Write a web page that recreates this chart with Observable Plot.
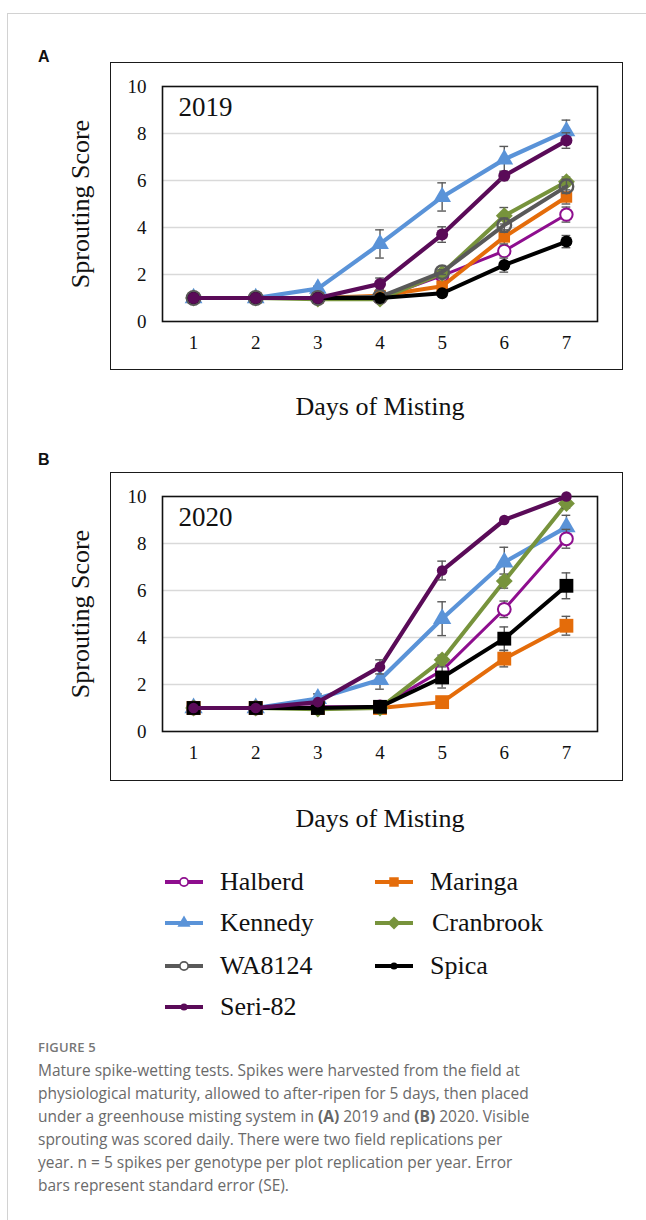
<!DOCTYPE html>
<html><head><meta charset="utf-8">
<script src="https://cdn.jsdelivr.net/npm/d3@7"></script>
<script src="https://cdn.jsdelivr.net/npm/@observablehq/plot@0.6"></script>
<style>
body{margin:0;background:#fff;}
#page{position:relative;width:646px;height:1220px;overflow:hidden;background:#fff;}
.card{position:absolute;left:7px;top:13px;width:720px;height:1400px;border:1px solid #d2d2d2;}
.plab{position:absolute;font-family:"Liberation Sans",Arial,sans-serif;font-weight:bold;font-size:16px;color:#111;line-height:1;}
.box{position:absolute;border:1.5px solid #1a1a1a;box-sizing:border-box;}
.plot{position:absolute;left:0;}
.leg{position:absolute;display:flex;align-items:center;font-family:"Liberation Serif","Times New Roman",serif;font-size:26px;color:#111;line-height:1;white-space:nowrap;}
.leg svg{margin-right:17px;overflow:visible;}
.figno{position:absolute;left:38px;top:1038px;font-family:"Open Sans",sans-serif;font-size:13px;color:#777;font-weight:600;letter-spacing:0.2px;}
.cap{position:absolute;left:38px;top:1059px;font-family:"Open Sans",sans-serif;font-size:15.5px;line-height:22.9px;color:#6a6a6a;white-space:nowrap;}
.cap b{font-weight:700;color:#666;}
</style>
</head><body>
<div id="page">
  <div class="card"></div>
  <div class="plab" style="left:38px;top:49px;">A</div>
  <div class="plab" style="left:38px;top:452px;">B</div>
  <div class="box" style="left:110px;top:62px;width:513px;height:308px;"></div>
  <div class="box" style="left:110px;top:472px;width:513px;height:309px;"></div>
  <div id="plotA" class="plot" style="top:40px;"></div>
  <div id="plotB" class="plot" style="top:450px;"></div>
  <div id="legend"></div>
  <div class="figno">FIGURE 5</div>
  <div class="cap">Mature spike-wetting tests. Spikes were harvested from the field at<br>physiological maturity, allowed to after-ripen for 5 days, then placed<br>under a greenhouse misting system in <b>(A)</b> 2019 and <b>(B)</b> 2020. Visible<br>sprouting was scored daily. There were two field replications per<br>year. n = 5 spikes per genotype per plot replication per year. Error<br>bars represent standard error (SE).</div>
</div>
<script>
// ---------- data ----------
const days = [1, 2, 3, 4, 5, 6, 7];
const dayTicks = [1, 2, 3, 4, 5, 6, 7];
const scoreTicks = [0, 2, 4, 6, 8, 10];
const genotypes = ["Halberd", "Kennedy", "WA8124", "Seri-82", "Maringa", "Cranbrook", "Spica"];

// 2019 mean scores
const halberd2019   = [1, 1, 1, 1, 1.95, 3.0, 4.55];
const kennedy2019   = [1, 1, 1.4, 3.3, 5.3, 6.9, 8.1];
const wa81242019    = [1, 1, 1, 1.05, 2.1, 4.1, 5.75];
const seri822019    = [1, 1, 1, 1.6, 3.7, 6.2, 7.7];
const maringa2019   = [1, 1, 1, 1.1, 1.5, 3.6, 5.3];
const cranbrook2019 = [1, 1, 0.95, 0.95, 2.05, 4.5, 5.95];
const spica2019     = [1, 1, 1, 1, 1.2, 2.4, 3.4];
// 2019 standard errors
const halberdSe2019   = [0, 0, 0, 0, 0.1, 0.2, 0.32];
const kennedySe2019   = [0, 0, 0.1, 0.6, 0.6, 0.55, 0.47];
const wa8124Se2019    = [0, 0, 0, 0, 0.1, 0.3, 0.3];
const seri82Se2019    = [0, 0, 0, 0.25, 0.33, 0.2, 0.33];
const maringaSe2019   = [0, 0, 0, 0, 0.1, 0.3, 0.3];
const cranbrookSe2019 = [0, 0, 0, 0, 0.1, 0.35, 0.2];
const spicaSe2019     = [0, 0, 0, 0, 0.05, 0.3, 0.26];

// 2020 mean scores (WA8124 not shown)
const halberd2020   = [1, 1, 1.05, 1.05, 2.6, 5.2, 8.2];
const kennedy2020   = [1, 1, 1.4, 2.2, 4.8, 7.2, 8.7];
const seri822020    = [1, 1, 1.25, 2.75, 6.85, 9.0, 10.0];
const maringa2020   = [1, 1, 1, 1, 1.25, 3.1, 4.5];
const cranbrook2020 = [1, 1, 0.95, 1.0, 3.05, 6.4, 9.7];
const spica2020     = [1, 1, 1, 1.05, 2.3, 3.95, 6.2];
// 2020 standard errors
const halberdSe2020   = [0, 0, 0, 0, 0.2, 0.35, 0.4];
const kennedySe2020   = [0, 0, 0.2, 0.4, 0.72, 0.64, 0.5];
const seri82Se2020    = [0, 0, 0, 0.3, 0.4, 0, 0];
const maringaSe2020   = [0, 0, 0, 0, 0.1, 0.35, 0.4];
const cranbrookSe2020 = [0, 0, 0, 0, 0.2, 0.3, 0.2];
const spicaSe2020     = [0, 0, 0, 0, 0.45, 0.5, 0.55];

// ---------- styles ----------
const colorOf = {
  "Halberd": "#8e0e8e", "Kennedy": "#5a93d8", "WA8124": "#595959", "Seri-82": "#5a0b58",
  "Maringa": "#e46c0a", "Cranbrook": "#77933c", "Spica": "#000000"
};
const widthOf = {"Halberd": 3, "Kennedy": 4.2, "WA8124": 4, "Seri-82": 4.2, "Maringa": 4, "Cranbrook": 4, "Spica": 4};
const drawOrder = ["Kennedy", "Halberd", "Maringa", "Cranbrook", "WA8124", "Spica", "Seri-82"];

const styleA = {
  "Halberd":   {symbol: "circle", r: 6.2, fill: "white", sw: 2},
  "Kennedy":   {symbol: "triangle", r: 6.6, fill: null, sw: 0},
  "WA8124":    {symbol: "circle", r: 6.8, fill: "none", sw: 2.4},
  "Seri-82":   {symbol: "circle", r: 6, fill: null, sw: 0},
  "Maringa":   {symbol: "square", r: 6.5, fill: null, sw: 0},
  "Cranbrook": {symbol: "diamond2", r: 7.6, fill: null, sw: 0},
  "Spica":     {symbol: "circle", r: 6, fill: null, sw: 0}
};
const styleB = {
  "Halberd":   {symbol: "circle", r: 6.4, fill: "white", sw: 2},
  "Kennedy":   {symbol: "triangle", r: 6.8, fill: null, sw: 0},
  "Seri-82":   {symbol: "circle", r: 5.3, fill: null, sw: 0},
  "Maringa":   {symbol: "square", r: 7.8, fill: null, sw: 0},
  "Cranbrook": {symbol: "diamond2", r: 7.6, fill: null, sw: 0},
  "Spica":     {symbol: "square", r: 7.8, fill: null, sw: 0}
};

const series2019 = {
  "Halberd": [halberd2019, halberdSe2019], "Kennedy": [kennedy2019, kennedySe2019],
  "WA8124": [wa81242019, wa8124Se2019], "Seri-82": [seri822019, seri82Se2019],
  "Maringa": [maringa2019, maringaSe2019], "Cranbrook": [cranbrook2019, cranbrookSe2019],
  "Spica": [spica2019, spicaSe2019]
};
const series2020 = {
  "Halberd": [halberd2020, halberdSe2020], "Kennedy": [kennedy2020, kennedySe2020],
  "Seri-82": [seri822020, seri82Se2020], "Maringa": [maringa2020, maringaSe2020],
  "Cranbrook": [cranbrook2020, cranbrookSe2020], "Spica": [spica2020, spicaSe2020]
};

const serif = '"Liberation Serif","Times New Roman",serif';
const capHalf = 0.07;

function panel(series, styles, yearLabel, labelDy) {
  const marks = [
    Plot.gridY([2, 4, 6, 8], {stroke: "#d9d9d9", strokeOpacity: 1, strokeWidth: 1.6}),
    Plot.frame({stroke: "#111", strokeWidth: 1.6}),
    Plot.axisX(dayTicks, {tickSize: 0, tickPadding: 14, fontSize: 19, fontFamily: serif, fill: "#111", label: null}),
    Plot.axisY(scoreTicks, {tickSize: 0, tickPadding: 16, fontSize: 19, fontFamily: serif, fill: "#111", label: null}),
    Plot.text([yearLabel], {text: d => d, frameAnchor: "top-left", textAnchor: "start", lineAnchor: "middle", dx: 16, dy: 21, fontSize: 27, fontFamily: serif, fill: "#111"}),
    Plot.text(["Days of Misting"], {text: d => d, frameAnchor: "bottom", textAnchor: "middle", dy: labelDy, fontSize: 26, fontFamily: serif, fill: "#111"}),
    Plot.text(["Sprouting Score"], {text: d => d, frameAnchor: "left", textAnchor: "middle", rotate: -90, dx: -82, fontSize: 26, fontFamily: serif, fill: "#111"})
  ];
  for (const name of drawOrder) {
    if (!series[name]) continue;
    const [vals, ses] = series[name];
    const rows = days.map((d, i) => ({day: d, v: vals[i], se: ses[i]}));
    const errRows = rows.filter(r => r.se > 0);
    const st = styles[name];
    const c = colorOf[name];
    marks.push(Plot.line(rows, {x: "day", y: "v", stroke: c, strokeWidth: widthOf[name], strokeLinejoin: "round"}));
    marks.push(Plot.ruleX(errRows, {x: "day", y1: r => r.v - r.se, y2: r => r.v + r.se, stroke: "#595959", strokeWidth: 1.4}));
    marks.push(Plot.ruleY(errRows, {y: r => r.v + r.se, x1: r => r.day - capHalf, x2: r => r.day + capHalf, stroke: "#595959", strokeWidth: 1.4}));
    marks.push(Plot.ruleY(errRows, {y: r => r.v - r.se, x1: r => r.day - capHalf, x2: r => r.day + capHalf, stroke: "#595959", strokeWidth: 1.4}));
    marks.push(Plot.dot(rows, {
      x: "day", y: "v", symbol: st.symbol, r: st.r,
      fill: st.fill === null ? c : st.fill,
      stroke: st.sw > 0 ? c : "none", strokeWidth: st.sw
    }));
  }
  return Plot.plot({
    width: 646, height: 390,
    marginTop: 46, marginBottom: 109, marginLeft: 162, marginRight: 49,
    x: {domain: [0.5, 7.5], axis: null},
    y: {domain: [0, 10], axis: null},
    style: {background: "transparent", overflow: "visible"},
    marks
  });
}

document.getElementById("plotA").appendChild(panel(series2019, styleA, "2019", 93));
document.getElementById("plotB").appendChild(panel(series2020, styleB, "2020", 95));

// ---------- legend ----------
const legendSymbol = {
  "Halberd":   {type: d3.symbolCircle, size: 55, fill: "white", stroke: true},
  "Kennedy":   {type: d3.symbolTriangle, size: 75, fill: null, stroke: false},
  "WA8124":    {type: d3.symbolCircle, size: 55, fill: "white", stroke: true},
  "Seri-82":   {type: d3.symbolCircle, size: 40, fill: null, stroke: false},
  "Maringa":   {type: d3.symbolSquare, size: 90, fill: null, stroke: false},
  "Cranbrook": {type: d3.symbolDiamond2, size: 110, fill: null, stroke: false},
  "Spica":     {type: d3.symbolCircle, size: 40, fill: null, stroke: false}
};
const legendPos = {
  "Halberd": [165, 882], "Kennedy": [165, 923], "WA8124": [165, 966], "Seri-82": [165, 1007],
  "Maringa": [375, 882], "Cranbrook": [375, 923], "Spica": [375, 966]
};
const legendGap = {"Maringa": 17, "Cranbrook": 19, "Spica": 17};
const legendEl = document.getElementById("legend");
for (const name of genotypes) {
  const [lx, ly] = legendPos[name];
  const s = legendSymbol[name];
  const c = colorOf[name];
  const item = document.createElement("div");
  item.className = "leg";
  item.style.left = lx + "px";
  item.style.top = (ly - 14) + "px";
  item.style.height = "28px";
  const path = d3.symbol(s.type, s.size)();
  item.innerHTML =
    `<svg width="38" height="20" viewBox="0 0 38 20" style="margin-right:${legendGap[name] || 17}px">` +
    `<line x1="0" x2="38" y1="10" y2="10" stroke="${c}" stroke-width="4"/>` +
    `<path transform="translate(19,10)" d="${path}" fill="${s.fill || c}" stroke="${s.stroke ? c : "none"}" stroke-width="1.8"/>` +
    `</svg><span>${name}</span>`;
  legendEl.appendChild(item);
}
</script>
</body></html>
